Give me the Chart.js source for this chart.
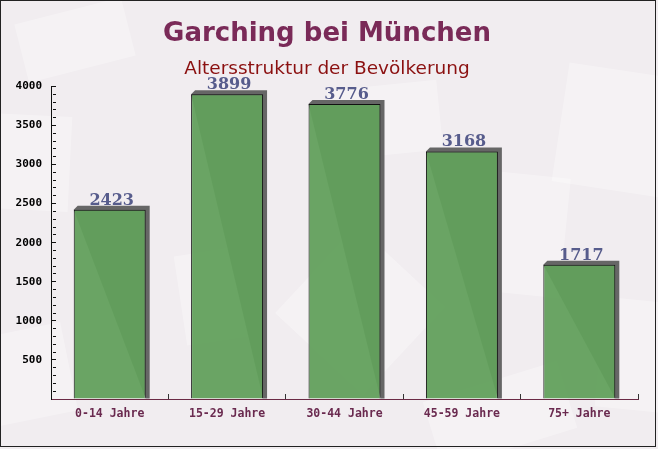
<!DOCTYPE html>
<html lang="de">
<head>
<meta charset="utf-8">
<title>Garching bei München - Altersstruktur</title>
<script src="https://cdn.jsdelivr.net/npm/chart.js@4.4.1/dist/chart.umd.min.js"></script>
<style>
    html, body { margin: 0; padding: 0; background: #f1edf0; }
    #wrap { width: 658px; height: 449px; }
</style>
</head>
<body>
<div id="wrap"><canvas id="ageChart" width="658" height="449"></canvas></div>
<script>
// Daten
const altersGruppen = ['0-14 Jahre', '15-29 Jahre', '30-44 Jahre', '45-59 Jahre', '75+ Jahre'];
const einwohner = [2423, 3899, 3776, 3168, 1717];
const yMin = 0;
const yMax = 4000;
const yStepLabel = 500;
const yStepMinor = 100;

const titelText = 'Garching bei München';
const untertitelText = 'Altersstruktur der Bevölkerung';

// Helle "Briefumschläge" im Hintergrund (nur Deko): [x, y, breite, hoehe, winkel]
const dekoFlaechen = [
    [20, 10, 110, 60, -0.25],
    [-10, 115, 80, 95, 0.05],
    [330, 85, 110, 70, -0.1],
    [560, 70, 110, 120, 0.15],
    [495, 175, 70, 120, 0.1],
    [300, 250, 120, 120, 0.75],
    [-20, 330, 90, 90, -0.2],
    [180, 250, 80, 90, -0.15],
    [600, 300, 70, 110, 0.1],
    [430, 380, 140, 70, -0.3]
];

// Hintergrund + Rahmen
const hintergrundPlugin = {
    id: 'hintergrund',
    beforeDraw(chart) {
        const ctx = chart.ctx;
        ctx.save();
        ctx.fillStyle = '#f1edf0';
        ctx.fillRect(0, 0, chart.width, chart.height);
        ctx.fillStyle = 'rgba(255, 255, 255, 0.3)';
        dekoFlaechen.forEach(f => {
            ctx.save();
            ctx.translate(f[0] + f[2] / 2, f[1] + f[3] / 2);
            ctx.rotate(f[4]);
            ctx.fillRect(-f[2] / 2, -f[3] / 2, f[2], f[3]);
            ctx.restore();
        });
        ctx.restore();
    },
    afterDraw(chart) {
        const ctx = chart.ctx;
        ctx.save();
        ctx.strokeStyle = '#222';
        ctx.lineWidth = 1;
        ctx.strokeRect(0.5, 0.5, 655, 446);
        ctx.restore();
    }
};

// 3D-Schatten hinter den Balken
const schattenPlugin = {
    id: 'schatten',
    beforeDatasetsDraw(chart) {
        const ctx = chart.ctx;
        const meta = chart.getDatasetMeta(0);
        const d = 4;
        ctx.save();
        ctx.fillStyle = '#666666';
        meta.data.forEach(bar => {
            const { x, y, base, width } = bar.getProps(['x', 'y', 'base', 'width'], true);
            const left = x - width / 2;
            const right = x + width / 2;
            ctx.beginPath();
            ctx.moveTo(left, y);
            ctx.lineTo(left + d, y - d);
            ctx.lineTo(right + d, y - d);
            ctx.lineTo(right + d, base);
            ctx.lineTo(right, base);
            ctx.closePath();
            ctx.fill();
        });
        ctx.restore();
    }
};

// Werte über den Balken
const wertePlugin = {
    id: 'werte',
    afterDatasetsDraw(chart) {
        const ctx = chart.ctx;
        const meta = chart.getDatasetMeta(0);
        ctx.save();
        ctx.font = 'bold 16px "DejaVu Serif"';
        ctx.fillStyle = '#575c8c';
        ctx.textAlign = 'center';
        ctx.textBaseline = 'alphabetic';
        meta.data.forEach((bar, i) => {
            const { x, y } = bar.getProps(['x', 'y'], true);
            ctx.fillText(String(einwohner[i]), x + 2, y - 5);
        });
        ctx.restore();
    }
};

// Hauptstrich alle 500, dazwischen kurze Striche alle 100
function istHauptstrich(wert) {
    return wert % yStepLabel === 0;
}

const ctx = document.getElementById('ageChart').getContext('2d');
const ageChart = new Chart(ctx, {
    type: 'bar',
    data: {
        labels: altersGruppen,
        datasets: [{
            label: 'Einwohner',
            data: einwohner,
            backgroundColor: 'rgba(98, 160, 92, 0.95)',
            borderColor: '#111',
            borderWidth: 1,
            barPercentage: 0.613,
            categoryPercentage: 1.0
        }]
    },
    options: {
        responsive: false,
        animation: false,
        devicePixelRatio: 1,
        layout: {
            // links/rechts so gewählt, dass der Titel bei x≈327 zentriert ist
            padding: { left: 16, right: 20, top: 0, bottom: 0 }
        },
        plugins: {
            legend: { display: false },
            tooltip: { enabled: false },
            title: {
                display: true,
                text: titelText,
                color: '#7a2a58',
                font: { family: '"DejaVu Sans"', size: 26, weight: 'bold', lineHeight: 1.2 },
                padding: { top: 19, bottom: 2 }
            },
            subtitle: {
                display: true,
                text: untertitelText,
                color: '#8b1010',
                font: { family: '"DejaVu Sans"', size: 18.5, weight: 'normal', lineHeight: 1.2 },
                padding: { top: 6, bottom: 6 }
            }
        },
        scales: {
            x: {
                grid: {
                    display: true,
                    drawOnChartArea: false,
                    offset: true,
                    tickLength: -5,
                    tickColor: '#333'
                },
                border: { display: true, color: '#6b2a45', width: 1 },
                ticks: {
                    color: '#6a2a4f',
                    font: { family: '"DejaVu Sans Mono"', size: 11.5, weight: 'bold' },
                    padding: 13,
                    maxRotation: 0,
                    autoSkip: false
                },
                afterFit(scale) { scale.height = 50; }
            },
            y: {
                position: 'left',
                min: yMin,
                max: yMax,
                grid: {
                    display: true,
                    drawOnChartArea: false,
                    tickLength: -5,
                    tickColor: '#111',
                    // kurze Zwischenstriche: nur die ersten 3px werden gezeichnet
                    tickBorderDash: c => (c.tick && istHauptstrich(c.tick.value)) ? [] : [3, 20]
                },
                border: { display: true, color: '#111', width: 1 },
                ticks: {
                    stepSize: yStepMinor,
                    autoSkip: false,
                    color: '#000',
                    font: { family: '"DejaVu Sans Mono"', size: 11, weight: 'bold' },
                    padding: 14,
                    callback: v => (v !== 0 && istHauptstrich(v)) ? v : ''
                },
                afterFit(scale) { scale.width = 35; }
            }
        }
    },
    plugins: [hintergrundPlugin, schattenPlugin, wertePlugin]
});
</script>
</body>
</html>
